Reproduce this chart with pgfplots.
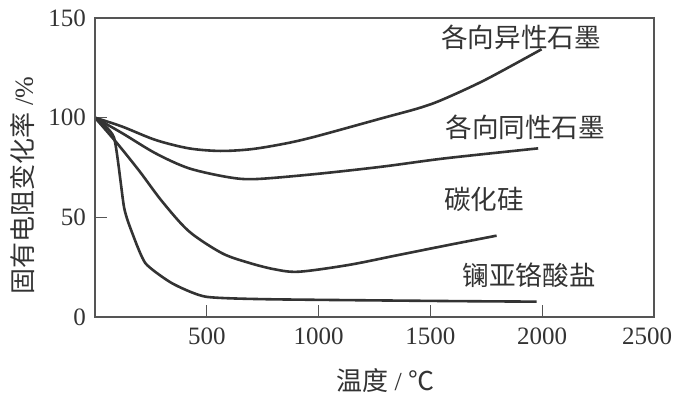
\documentclass[border=0pt]{standalone}
\usepackage{pgfplots}
\pgfplotsset{compat=1.18}
\usepackage{fontspec}
\setmainfont{Liberation Serif}
\newfontfamily\cjk{Noto Sans CJK SC}
\definecolor{curve}{HTML}{333333}
\definecolor{frame}{HTML}{555555}
\begin{document}
\begin{tikzpicture}
\begin{axis}[
  scale only axis, width=279.5pt, height=149.5pt,
  xmin=0, xmax=2500, ymin=0, ymax=150,
  xtick={500,1000,1500,2000,2500},
  xticklabels={500,1000,1500,2000,{\hspace*{-7pt}2500}},
  ytick={0,50,100,150},
  xtick pos=bottom, ytick pos=left,
  tick align=inside, major tick length=6pt,
  axis line style={frame, line width=0.7pt},
  tick style={frame, line width=0.7pt},
  /pgf/number format/assume math mode=true,
  /pgf/number format/set thousands separator={},
  tick label style={font=\fontsize{12.5}{14}\selectfont, text=black!80},
  xticklabel style={yshift=-2pt},
  yticklabel style={xshift=-1pt},
  xlabel={{\cjk 温度} / {\cjk ℃}},
  xlabel style={at={(axis description cs:0.519,-0.211)}, anchor=center, font=\fontsize{13}{15}\selectfont, text=black!80},
  ylabel={{\cjk 固有电阻变化率} /\%},
  ylabel style={at={(axis description cs:-0.129,0.44)}, anchor=center, rotate=0, font=\fontsize{13}{15}\selectfont, text=black!80},
  clip=false,
]
% anisotropic graphite
\addplot[curve, line width=1.3pt, smooth] coordinates {(0,100) (122,95.5) (271,88.8) (420,84.6) (560,83.3) (700,84.2) (850,87) (985,90.5) (1283,99.7) (1446,104.7) (1551,108.9) (1744,118.9) (1997,134.3)};
% isotropic graphite
\addplot[curve, line width=1.3pt, smooth] coordinates {(0,100) (122,92.2) (271,82.1) (420,74.6) (598,70.1) (720,69.2) (985,71.7) (1283,75.4) (1566,79.6) (1982,84.6)};
% silicon carbide
\addplot[curve, line width=1.3pt, smooth] coordinates {(0,100) (100,87) (200,73) (300,58) (420,43) (568,32) (688,27.2) (800,24) (911,22.7) (1134,26.1) (1357,31.1) (1580,36.1) (1796,40.8)};
% lanthanum chromite
\addplot[curve, line width=1.3pt, smooth, tension=0.35] coordinates {(0,100) (85,90) (130,55) (167,42) (226,26.9) (345,16.9) (494,10.2) (777,8.9) (1580,8.0) (1975,7.7)};
\draw[frame, line width=0.7pt] (rel axis cs:0,0) rectangle (rel axis cs:1,1);
\node[font=\cjk\fontsize{13.3}{15}\selectfont, text=black!80] at (axis cs:1906,140.5) {各向异性石墨};
\node[font=\cjk\fontsize{13.3}{15}\selectfont, text=black!80] at (axis cs:1924,95.3) {各向同性石墨};
\node[font=\cjk\fontsize{13.3}{15}\selectfont, text=black!80] at (axis cs:1741,59.2) {碳化硅};
\node[font=\cjk\fontsize{13.3}{15}\selectfont, text=black!80] at (axis cs:1942,21) {镧亚铬酸盐};
\coordinate (bl) at (rel axis cs:0,0);
\end{axis}
\pgfresetboundingbox
\path (bl) ++(-47.5pt,-39pt) rectangle ++(337.5pt,197.5pt);
\end{tikzpicture}
\end{document}
